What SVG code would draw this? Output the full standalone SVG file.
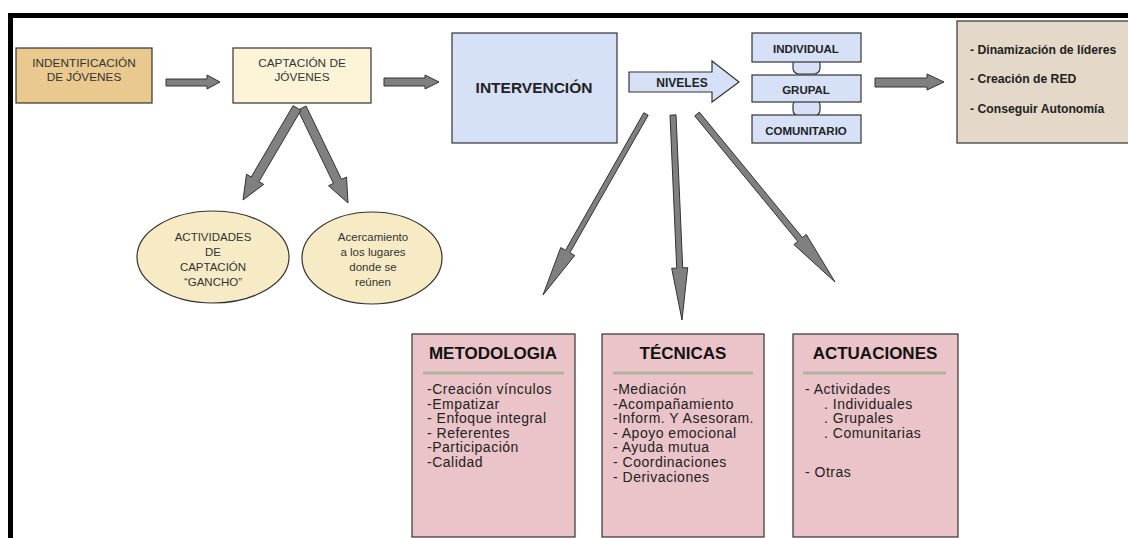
<svg xmlns="http://www.w3.org/2000/svg" width="1128" height="538" viewBox="0 0 1128 538">
<style>
text{font-family:"Liberation Sans",Arial,sans-serif}
.box{stroke:#333;stroke-width:1.2}
.top{font-size:11.8px;fill:#333;text-anchor:middle}
.lvl{font-size:11.5px;font-weight:bold;fill:#222;text-anchor:middle}
.res{font-size:12.2px;font-weight:bold;fill:#222}
.ell{font-size:11.5px;fill:#333;text-anchor:middle}
.ttl{font-size:17px;font-weight:bold;fill:#111;text-anchor:middle}
.itm{font-size:14px;fill:#222;letter-spacing:0.5px}
.sep{stroke:#b3b2a2;stroke-width:3}
.arr{fill:#808080;stroke:#333;stroke-width:1;stroke-linejoin:miter}
.blue{fill:#d6e0f7}
.pink{fill:#eac4c8}
</style>
<rect x="0" y="0" width="1128" height="538" fill="#fff"/>
<g id="frame">
<rect x="8" y="13" width="1120" height="5" fill="#000"/>
<rect x="8" y="13" width="5" height="525" fill="#000"/>
</g>
<g id="identificacion">
<rect class="box" x="16" y="48" width="136" height="55" fill="#e9c98e"/>
<text class="top" x="84" y="67">INDENTIFICACIÓN</text>
<text class="top" x="84" y="81">DE JÓVENES</text>
</g>
<g id="captacion">
<rect class="box" x="233" y="48" width="138" height="55" fill="#fdf3d6"/>
<text class="top" x="302" y="67">CAPTACIÓN DE</text>
<text class="top" x="302" y="81">JÓVENES</text>
</g>
<g id="intervencion">
<rect class="box blue" x="452" y="33" width="165" height="110"/>
<text x="534" y="92.5" style="font-size:15.5px;font-weight:bold;fill:#222;text-anchor:middle">INTERVENCIÓN</text>
</g>
<g id="niveles">
<polygon class="box blue" points="629,72 712,72 712,61 739,82 712,102 712,92 629,92"/>
<text x="682" y="87" style="font-size:12px;font-weight:bold;fill:#222;text-anchor:middle">NIVELES</text>
</g>
<g id="links">
<rect class="box blue" x="793" y="58" width="27" height="16" rx="6"/>
<rect class="box blue" x="793" y="99" width="27" height="17" rx="6"/>
</g>
<g id="individual">
<rect class="box blue" x="752" y="33" width="109" height="29"/>
<text class="lvl" x="806" y="53">INDIVIDUAL</text>
</g>
<g id="grupal">
<rect class="box blue" x="752" y="75" width="109" height="27"/>
<text class="lvl" x="806" y="94">GRUPAL</text>
</g>
<g id="comunitario">
<rect class="box blue" x="752" y="115" width="109" height="28"/>
<text class="lvl" x="806" y="135">COMUNITARIO</text>
</g>
<g id="resultados">
<rect class="box" x="957" y="21" width="175" height="122" fill="#e4d8c8"/>
<text class="res" x="970" y="54">- Dinamización de líderes</text>
<text class="res" x="970" y="83">- Creación de RED</text>
<text class="res" x="970" y="113">- Conseguir Autonomía</text>
</g>
<g id="actividades-gancho">
<ellipse class="box" cx="213" cy="257" rx="76" ry="46" fill="#f7ebc6"/>
<text class="ell" x="213" y="241">ACTIVIDADES</text>
<text class="ell" x="213" y="256">DE</text>
<text class="ell" x="213" y="271">CAPTACIÓN</text>
<text class="ell" x="213" y="286">“GANCHO”</text>
</g>
<g id="acercamiento">
<ellipse class="box" cx="372" cy="258" rx="70" ry="46" fill="#f7ebc6"/>
<text class="ell" x="373" y="241">Acercamiento</text>
<text class="ell" x="373" y="256">a los lugares</text>
<text class="ell" x="373" y="271">donde se</text>
<text class="ell" x="373" y="286">reúnen</text>
</g>
<g id="metodologia">
<rect class="box pink" x="412" y="334" width="163" height="203"/>
<text class="ttl" x="493" y="359">METODOLOGIA</text>
<line class="sep" x1="423" y1="373" x2="564" y2="373"/>
<text class="itm" x="427" y="394">-Creación vínculos</text>
<text class="itm" x="427" y="408.6">-Empatizar</text>
<text class="itm" x="427" y="423.2">- Enfoque integral</text>
<text class="itm" x="427" y="437.8">- Referentes</text>
<text class="itm" x="427" y="452.4">-Participación</text>
<text class="itm" x="427" y="467">-Calidad</text>
</g>
<g id="tecnicas">
<rect class="box pink" x="602" y="334" width="162" height="203"/>
<text class="ttl" x="683" y="359">TÉCNICAS</text>
<line class="sep" x1="613" y1="373" x2="753" y2="373"/>
<text class="itm" x="613" y="394">-Mediación</text>
<text class="itm" x="613" y="408.6">-Acompañamiento</text>
<text class="itm" x="613" y="423.2">-Inform. Y Asesoram.</text>
<text class="itm" x="613" y="437.8">- Apoyo emocional</text>
<text class="itm" x="613" y="452.4">- Ayuda mutua</text>
<text class="itm" x="613" y="467">- Coordinaciones</text>
<text class="itm" x="613" y="481.6">- Derivaciones</text>
</g>
<g id="actuaciones">
<rect class="box pink" x="793" y="334" width="165" height="203"/>
<text class="ttl" x="875" y="359">ACTUACIONES</text>
<line class="sep" x1="803" y1="373" x2="946" y2="373"/>
<text class="itm" x="805" y="394">- Actividades</text>
<text class="itm" x="824" y="408.6">. Individuales</text>
<text class="itm" x="824" y="423.2">. Grupales</text>
<text class="itm" x="824" y="437.8">. Comunitarias</text>
<text class="itm" x="805" y="477">- Otras</text>
</g>
<g id="connectors">
<polygon class="arr" points="166,79 207,79 207,75 220,82 207,89 207,86 166,86"/>
<polygon class="arr" points="384,78 425,78 425,75 439,82 425,89 425,86 384,86"/>
<polygon class="arr" points="875,78 927,78 927,74 944,82 927,90 927,87 875,87"/>
<polygon class="arr" points="297.95,109.96 333.45,183.36 328.5,185.76 348,203 346.5,177.04 341.55,179.44 306.05,106.04"/>
<polygon class="arr" points="300.9,110.3 259,181.6 263.7,184.4 243,200 246.5,174.2 251.2,177 293.1,105.7"/>
<polygon class="arr" points="648.17,115.24 569.87,252.74 574.65,255.46 543,295 560.75,247.54 565.53,250.26 643.83,112.76"/>
<polygon class="arr" points="676,114.87 682.7,267.87 687.7,267.65 682,320 671.7,268.35 676.7,268.13 670,115.13"/>
<polygon class="arr" points="699.32,112.1 802.42,237.6 806.28,234.42 835,282 793.92,244.58 797.78,241.4 694.68,115.9"/>
</g>
</svg>
